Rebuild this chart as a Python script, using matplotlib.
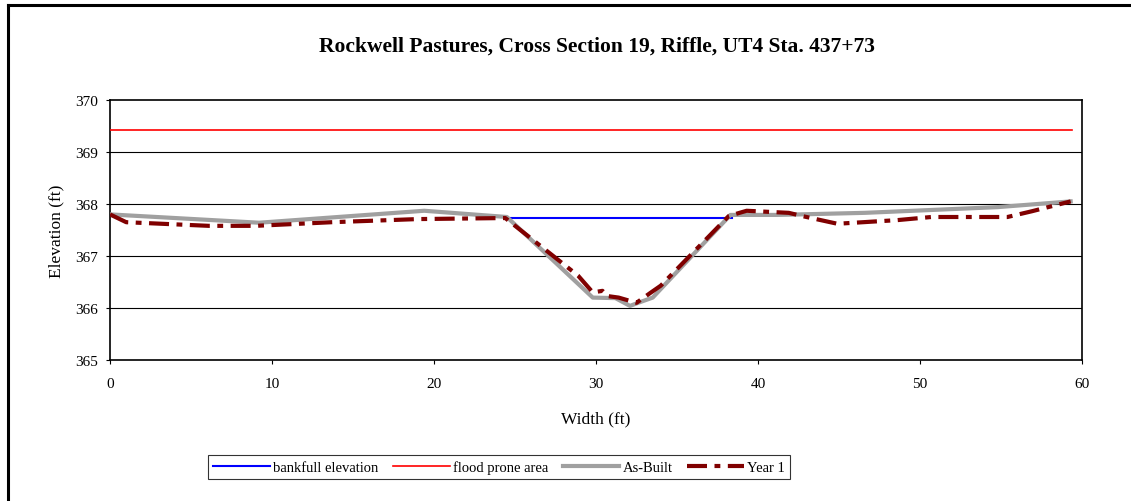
import matplotlib
matplotlib.use("Agg")
import matplotlib.pyplot as plt
from matplotlib.lines import Line2D

title = "Rockwell Pastures, Cross Section 19, Riffle, UT4 Sta. 437+73"

bankfull_x = [24.5, 38.4]
bankfull_y = [367.74, 367.74]

flood_x = [0, 59.4]
flood_y = [369.42, 369.42]

asbuilt_x = [0, 9.2, 19.4, 24.5, 29.8, 31.2, 32.1, 32.6, 33.5, 38.3, 41.2, 46.6, 54.8, 59.3]
asbuilt_y = [367.80, 367.64, 367.87, 367.75, 366.20, 366.19, 366.04, 366.10, 366.20, 367.79, 367.79, 367.83, 367.94, 368.05]

year1_x = [0, 1.0, 6.1, 9.0, 13.7, 19.0, 24.4, 28.9, 29.8, 30.4, 30.7, 31.4, 32.5, 33.4, 34.0, 38.2, 39.3, 41.9, 42.7, 44.9, 48.6, 50.7, 55.4, 56.9, 59.3]
year1_y = [367.80, 367.65, 367.58, 367.58, 367.65, 367.71, 367.73, 366.62, 366.30, 366.33, 366.23, 366.20, 366.10, 366.30, 366.43, 367.77, 367.87, 367.83, 367.77, 367.62, 367.69, 367.75, 367.75, 367.86, 368.05]

x_ticks = [0, 10, 20, 30, 40, 50, 60]
y_ticks = [365, 366, 367, 368, 369, 370]

plt.rcParams['font.family'] = ['Liberation Serif', 'DejaVu Serif']

fig = plt.figure(figsize=(11.31, 5.02), dpi=100)
ax = fig.add_axes([110/1131, 1 - 361/502, (1082-110)/1131, (361-101)/502])

for yv in y_ticks[1:-1]:
    ax.axhline(yv, color='black', linewidth=0.8, zorder=1)

ax.plot(bankfull_x, bankfull_y, color='#0000ff', linewidth=1.5, zorder=3, label='bankfull elevation')
ax.plot(flood_x, flood_y, color='#ff0000', linewidth=1.2, zorder=3, label='flood prone area')
ax.plot(asbuilt_x, asbuilt_y, color='#a0a0a0', linewidth=3.0, zorder=4, label='As-Built')
ax.plot(year1_x, year1_y, color='#800000', linewidth=3.0, zorder=5,
        dashes=(4.8, 1.8, 1.4, 1.8), label='Year 1')

ax.set_xlim(0, 60)
ax.set_ylim(365, 370)
ax.set_xticks(x_ticks)
ax.set_yticks(y_ticks)
ax.tick_params(direction='out', length=3, width=0.8, labelsize=11)
ax.tick_params(axis='x', pad=9)
ax.tick_params(axis='y', pad=5.5)
for s in ax.spines.values():
    s.set_linewidth(1.2)
    s.set_color('black')

ax.set_xlabel('Width (ft)', fontsize=12.5, labelpad=15)
ax.set_ylabel('Elevation (ft)', fontsize=12.5, labelpad=8)
fig.text(597/1131, 1 - 47/502, title, ha='center', va='center', fontsize=15.5, fontweight='bold')

# outer border (left and top)
fig.add_artist(Line2D([8/1131, 8/1131], [0, 1 - 6/502], transform=fig.transFigure, color='black', linewidth=2.2))
fig.add_artist(Line2D([8/1131, 1], [1 - 6/502, 1 - 6/502], transform=fig.transFigure, color='black', linewidth=2.2))

leg = fig.legend(loc='center', bbox_to_anchor=(499/1131, 1 - 468/502), ncol=4, frameon=True,
                 fancybox=False, edgecolor='black', fontsize=10.5, handlelength=3.9,
                 handletextpad=0.2, columnspacing=1.0, borderpad=0.35)
leg.get_frame().set_linewidth(0.8)

fig.savefig('out.png', dpi=100)
